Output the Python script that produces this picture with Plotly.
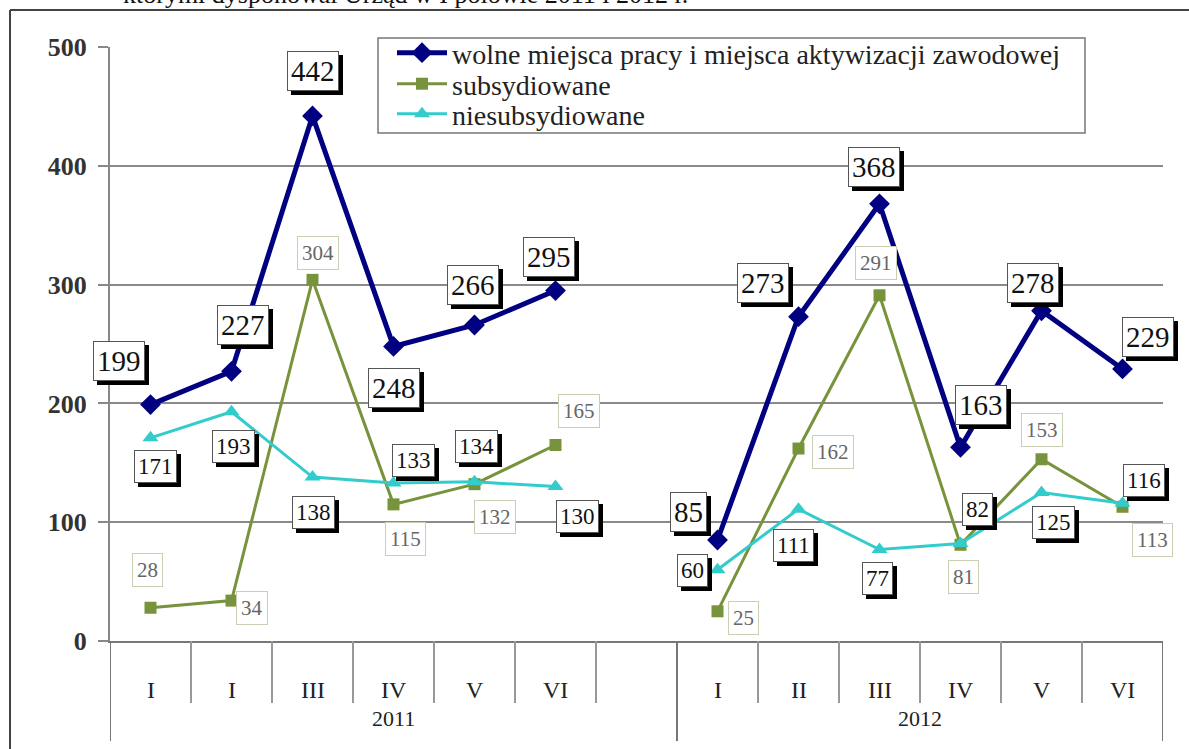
import plotly.graph_objects as go

# ---------------- data ----------------
months = ["I", "I", "III", "IV", "V", "VI", "", "I", "II", "III", "IV", "V", "VI"]
years = ["2011", "2012"]
year_first = [0, 7]
year_last = [6, 12]
wolne = [199, 227, 442, 248, 266, 295, None, 85, 273, 368, 163, 278, 229]
subs = [28, 34, 304, 115, 132, 165, None, 25, 162, 291, 81, 153, 113]
niesubs = [171, 193, 138, 133, 134, 130, None, 60, 111, 77, 82, 125, 116]
y_ticks = [0, 100, 200, 300, 400, 500]
names = ["wolne miejsca pracy i miejsca aktywizacji zawodowej", "subsydiowane", "niesubsydiowane"]
top_text = "którymi dysponował Urząd w I połowie 2011 i 2012 r."

# label offsets in pixels (dx right, dy down) - layout only
off_w = [(-32, -44), (11, -46), (0, -45), (0, 42), (-2, -40), (-7, -34), None,
         (-29, -28), (-36, -34), (-6, -37), (20, -42), (-9, -28), (25, -32)]
off_n = [(5, 29), (2, 35), (1, 35), (20, -23), (2, -35), (22, 30), None,
         (-25, 1), (-5, 36), (-2, 29), (17, -34), (12, 30), (21, -23)]
off_s = [(-3, -38), (20, 7), (5, -27), (12, 35), (20, 33), (23, -34), None,
         (26, 7), (34, 3), (-4, -32), (3, 32), (0, -29), (30, 33)]

SERIF = "Liberation Serif, Times New Roman, serif"
NAVY = "#000080"
OLIVE = "#77933C"
TURQ = "#33CCCC"

# plot geometry (px) for converting layout positions to paper coords
L, R, T, B, W, H = 110, 26, 47, 108, 1189, 749
PW, PH = W - L - R, H - T - B


def px(xp):
    return (xp - L) / PW


def py(yp):
    return (H - B - yp) / PH


x = list(range(len(months)))

fig = go.Figure()
fig.add_trace(go.Scatter(x=x, y=wolne, name=names[0], mode="lines+markers", legend="legend",
                         line=dict(color=NAVY, width=5),
                         marker=dict(symbol="diamond", size=16, color=NAVY),
                         connectgaps=False))
fig.add_trace(go.Scatter(x=x, y=subs, name=names[1], mode="lines+markers", legend="legend2",
                         line=dict(color=OLIVE, width=3),
                         marker=dict(symbol="square", size=12, color=OLIVE),
                         connectgaps=False))
fig.add_trace(go.Scatter(x=x, y=niesubs, name=names[2], mode="lines+markers", legend="legend3",
                         line=dict(color=TURQ, width=3),
                         marker=dict(symbol="triangle-up", size=14, color=TURQ),
                         connectgaps=False))

ann = []


def add_label(xi, v, off, size, color, border, pad, shadow):
    dx, dy = off
    if shadow:
        ann.append(dict(x=xi, y=v, xref="x", yref="y", text=str(v), showarrow=False,
                        xshift=dx + 4, yshift=-dy - 4,
                        font=dict(family=SERIF, size=size, color="black"),
                        bgcolor="black", bordercolor="black", borderwidth=1, borderpad=pad))
    ann.append(dict(x=xi, y=v, xref="x", yref="y", text=str(v), showarrow=False,
                    xshift=dx, yshift=-dy,
                    font=dict(family=SERIF, size=size, color=color),
                    bgcolor="white", bordercolor=border, borderwidth=1, borderpad=pad))


for i in x:
    if wolne[i] is not None:
        add_label(i, wolne[i], off_w[i], 29, "#111", "#555", 3, True)
for i in x:
    if niesubs[i] is not None:
        add_label(i, niesubs[i], off_n[i], 23, "#111", "#555", 3, True)
for i in x:
    if subs[i] is not None:
        add_label(i, subs[i], off_s[i], 21, "#666", "#c9cfb3", 4, False)

# month labels
for i, m in enumerate(months):
    if m:
        ann.append(dict(x=i, y=py(690), xref="x", yref="paper", text=m, showarrow=False,
                        font=dict(family=SERIF, size=24, color="#222"), yanchor="middle"))
# year labels
for yl, a, b in zip(years, year_first, year_last):
    ann.append(dict(x=(a + b) / 2, y=py(718), xref="x", yref="paper", text=yl, showarrow=False,
                    font=dict(family=SERIF, size=22, color="#222"), yanchor="middle"))

# cropped heading text above chart
ann.append(dict(x=px(690), y=1.0, xref="paper", yref="paper", text=top_text, showarrow=False,
                xanchor="right", yanchor="bottom", font=dict(family=SERIF, size=26, color="#111"),
                yshift=36))

shapes = []
n = len(months)
group_edges = [year_first[0] - 0.5] + [b + 0.5 for b in year_last]
for k in range(n + 1):
    xe = k - 0.5
    long = any(abs(xe - g) < 1e-9 for g in group_edges)
    shapes.append(dict(type="line", xref="x", yref="paper", x0=xe, x1=xe, y0=0,
                       y1=py(741) if long else py(703),
                       line=dict(color="#777" if long else "#999", width=2)))
# outer frame
shapes.append(dict(type="line", xref="paper", yref="paper", x0=px(10), x1=px(1189), y0=py(10), y1=py(10),
                   line=dict(color="#444", width=2)))
shapes.append(dict(type="line", xref="paper", yref="paper", x0=px(10), x1=px(10), y0=py(10), y1=py(760),
                   line=dict(color="#444", width=2)))
# legend frame
shapes.append(dict(type="rect", xref="paper", yref="paper", x0=px(378), x1=px(1085), y0=py(38), y1=py(133),
                   line=dict(color="#777", width=1.5), fillcolor="white", layer="between"))

leg_common = dict(xanchor="left", yanchor="middle", bgcolor="rgba(0,0,0,0)", borderwidth=0,
                  font=dict(family=SERIF, size=28, color="#222"), itemwidth=50)

fig.update_layout(
    width=W, height=H,
    margin=dict(l=L, r=R, t=T, b=B),
    paper_bgcolor="white", plot_bgcolor="white",
    showlegend=True,
    legend=dict(x=px(392), y=py(53), **leg_common),
    legend2=dict(x=px(392), y=py(84), **leg_common),
    legend3=dict(x=px(392), y=py(114), **leg_common),
    annotations=ann, shapes=shapes,
    xaxis=dict(range=[-0.5, n - 0.5], showticklabels=False, showgrid=False, zeroline=False,
               showline=True, linecolor="#777", linewidth=2, ticks=""),
    yaxis=dict(range=[0, 500], tickvals=y_ticks, showgrid=True, gridcolor="#8a8a8a", gridwidth=1.5,
               zeroline=False, showline=True, linecolor="#888", linewidth=2,
               ticks="outside", ticklen=10, tickcolor="#888", tickwidth=1.5,
               ticklabelstandoff=6,
               tickfont=dict(family=SERIF, size=26, color="#333", weight="bold")),
)

fig.write_html("out.html", config={"displayModeBar": False},
               post_script="document.body.style.margin='0';")
